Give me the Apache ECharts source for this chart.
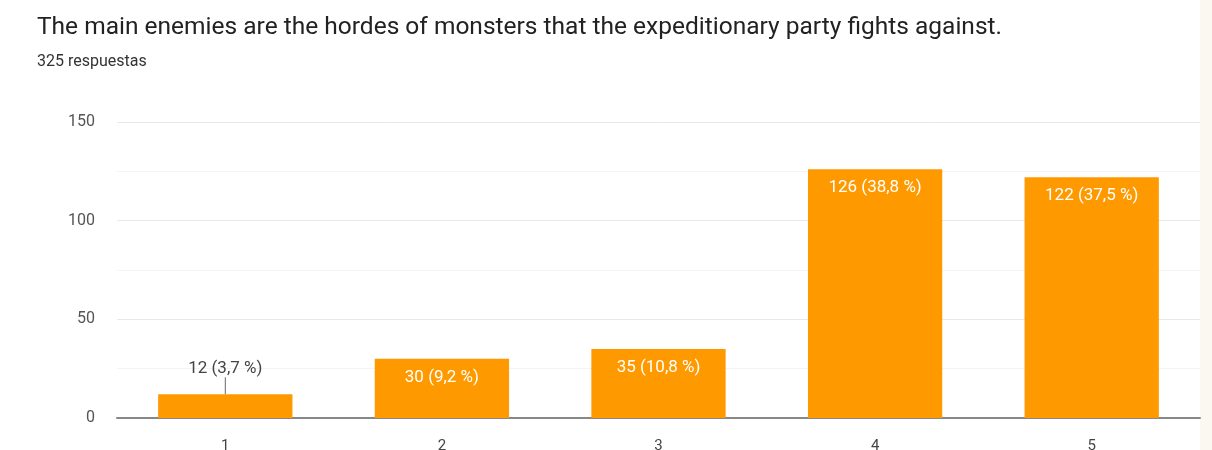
<!DOCTYPE html>
<html>
<head>
<meta charset="utf-8">
<script src="https://cdn.jsdelivr.net/npm/echarts@6/dist/echarts.min.js"></script>
<style>
  html, body { margin: 0; padding: 0; background: #ffffff; }
  #chart { width: 1212px; height: 450px; }
</style>
</head>
<body>
<div id="chart"></div>
<script>
// Survey question and response counts per rating
const titleText = 'The main enemies are the hordes of monsters that the expeditionary party fights against.';
const subtitleText = '325 respuestas';
const categories = ['1', '2', '3', '4', '5'];
const counts = [12, 30, 35, 126, 122];
const yTicks = [0, 50, 100, 150];

const total = counts.reduce((a, b) => a + b, 0);
const pct = v => (v / total * 100).toFixed(1).replace('.', ',');

// Small bars carry their label above, with a short leader line
const smallThreshold = 20;
const barData = counts.map(v => {
  if (v < smallThreshold) {
    return {
      value: v,
      label: { position: 'top', color: '#444444', distance: 5 },
      labelLine: { show: true, lineStyle: { color: '#666666', width: 1 } }
    };
  }
  return { value: v };
});

const chart = echarts.init(document.getElementById('chart'), null, { renderer: 'canvas' });
chart.setOption({
  animation: false,
  backgroundColor: '#ffffff',
  title: {
    text: titleText,
    subtext: subtitleText,
    left: 32,
    top: 10,
    itemGap: 14,
    textStyle: { fontFamily: 'Roboto', fontSize: 24.5, fontWeight: 'normal', color: '#222222' },
    subtextStyle: { fontFamily: 'Roboto', fontSize: 16, color: '#333333' }
  },
  grid: { left: 117, right: 12, top: 122, bottom: 32, containLabel: false, outerBoundsMode: 'none' },
  xAxis: {
    type: 'category',
    data: categories,
    axisLine: { show: true, lineStyle: { color: '#888888', width: 2 } },
    axisTick: { show: false },
    axisLabel: { fontFamily: 'Roboto', fontSize: 15, color: '#444444', margin: 21 }
  },
  yAxis: {
    type: 'value',
    min: 0,
    max: 150,
    interval: 25,
    axisLine: { show: false },
    axisTick: { show: false },
    axisLabel: {
      fontFamily: 'Roboto', fontSize: 16, color: '#555555', margin: 22,
      formatter: v => (yTicks.indexOf(v) >= 0 ? String(v) : '')
    },
    splitLine: { lineStyle: { color: ['#e8e8e8', '#f4f4f4'], width: 1 } }
  },
  series: [{
    type: 'bar',
    data: barData,
    barCategoryGap: '38%',
    itemStyle: { color: '#ff9900' },
    label: {
      show: true,
      position: 'insideTop',
      distance: 10,
      fontFamily: 'Roboto',
      fontSize: 17,
      color: '#ffffff',
      formatter: p => p.value + ' (' + pct(p.value) + ' %)'
    },
    labelLayout: p => (counts[p.dataIndex] < smallThreshold ? { dy: -12 } : {})
  }],
  graphic: [{
    type: 'rect',
    right: 0,
    top: 0,
    shape: { width: 12, height: 450 },
    style: { fill: '#fbf8f1' },
    silent: true
  }]
});
</script>
</body>
</html>
